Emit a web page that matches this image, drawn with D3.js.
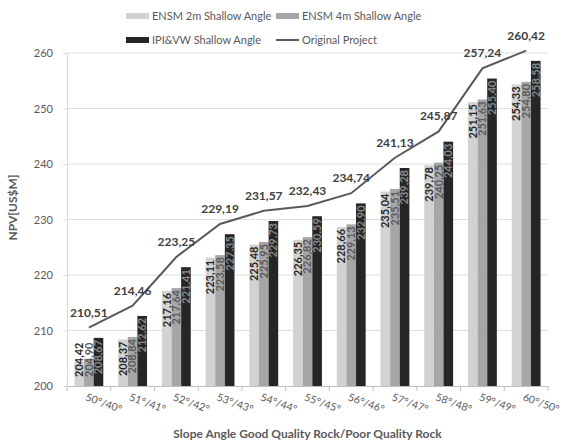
<!DOCTYPE html>
<html>
<head>
<meta charset="utf-8">
<script src="https://cdn.jsdelivr.net/npm/d3@7"></script>
<style>
  html, body { margin: 0; padding: 0; background: #fff; }
  svg { display: block; font-family: Lato, "Open Sans", sans-serif; }
</style>
</head>
<body>
<svg id="chart" width="562" height="444"></svg>
<script>
const categories = ["50°/40°", "51°/41°", "52°/42°", "53°/43°", "54°/44°", "55°/45°", "56°/46°", "57°/47°", "58°/48°", "59°/49°", "60°/50°"];
const ensm2m = [204.42, 208.37, 217.16, 223.11, 225.48, 226.35, 228.66, 235.04, 239.78, 251.15, 254.33];
const ensm4m = [204.90, 208.84, 217.64, 223.58, 225.95, 226.82, 229.13, 235.51, 240.25, 251.63, 254.80];
const ipivw = [208.67, 212.62, 221.41, 227.35, 229.73, 230.59, 232.90, 239.28, 244.03, 255.40, 258.58];
const original = [210.51, 214.46, 223.25, 229.19, 231.57, 232.43, 234.74, 241.13, 245.87, 257.24, 260.42];
const seriesNames = ["ENSM 2m Shallow Angle", "ENSM 4m Shallow Angle", "IPI&VW Shallow Angle", "Original Project"];
const yTicks = [200, 210, 220, 230, 240, 250, 260];

(function() {
const fmt = v => v.toFixed(2).replace(".", ",");
const svg = d3.select("#chart");

const left = 67, right = 548, plotTop = 53, bottom = 386;
const y = d3.scaleLinear().domain([200, 260]).range([bottom, plotTop]);
const x0 = d3.scaleBand().domain(categories).range([left, right]).paddingInner(0.34).paddingOuter(0.17);
const barSeries = [
  {name: seriesNames[0], values: ensm2m, fill: "#d2d2d2", label: "#262626"},
  {name: seriesNames[1], values: ensm4m, fill: "#a6a6a6", label: "#5a5a5a"},
  {name: seriesNames[2], values: ipivw, fill: "#262626", label: "#8a8a8a"}
];
const x1 = d3.scaleBand().domain(barSeries.map(s => s.name)).range([0, x0.bandwidth()]);

// gridlines
svg.append("g").selectAll("line").data(yTicks.filter(t => t > 200)).join("line")
  .attr("x1", left).attr("x2", right).attr("y1", d => y(d)).attr("y2", d => y(d))
  .attr("stroke", "#dedede").attr("stroke-width", 1);

// y axis
const yAxis = svg.append("g").attr("transform", `translate(${left},0)`)
  .call(d3.axisLeft(y).tickValues(yTicks).tickSize(4).tickPadding(10).tickFormat(d3.format("d")));
yAxis.select(".domain").attr("stroke", "#d9d9d9");
yAxis.selectAll(".tick line").attr("stroke", "#d9d9d9");
yAxis.selectAll(".tick text").attr("fill", "#595959").style("font-size", "11px").style("font-family", "Lato, 'Open Sans', sans-serif");

// bars
const groups = svg.append("g").selectAll("g").data(categories).join("g")
  .attr("transform", d => `translate(${x0(d)},0)`);
barSeries.forEach(s => {
  groups.append("rect")
    .attr("x", x1(s.name))
    .attr("width", x1.bandwidth())
    .attr("y", (d, i) => y(s.values[i]))
    .attr("height", (d, i) => bottom - y(s.values[i]))
    .attr("fill", s.fill);
});

// x axis
const xAxis = svg.append("g").attr("transform", `translate(0,${bottom})`)
  .call(d3.axisBottom(x0).tickSize(0).tickFormat(""));
xAxis.select(".domain").attr("stroke", "#bfbfbf");
const step = x0.step();
svg.append("g").selectAll("line").data(d3.range(categories.length + 1)).join("line")
  .attr("x1", i => left + i * step).attr("x2", i => left + i * step)
  .attr("y1", bottom).attr("y2", bottom + 5).attr("stroke", "#bfbfbf");
svg.append("g").selectAll("text").data(categories).join("text")
  .attr("transform", d => `translate(${x0(d) + x0.bandwidth() / 2 - 4},${bottom + 14}) rotate(20)`)
  .attr("fill", "#595959").style("font-size", "10.5px").text(d => d);

// bar labels
barSeries.forEach(s => {
  groups.append("text")
    .attr("fill", s.label)
    .style("font-size", "11px").style("font-weight", "bold")
    .attr("dy", "0.35em")
    .attr("text-anchor", "end")
    .text((d, i) => fmt(s.values[i]))
    .each(function(d, i) {
      const len = this.getComputedTextLength();
      const barTop = y(s.values[i]);
      const t = Math.min(barTop + 2, bottom - 9 - len);
      d3.select(this).attr("transform", `translate(${x1(s.name) + x1.bandwidth() / 2},${t}) rotate(-90)`);
    });
});

// line
const cx = c => x0(c) + x0.bandwidth() / 2;
const line = d3.line().x((d, i) => cx(categories[i])).y(d => y(d));
svg.append("path").datum(original).attr("d", line)
  .attr("fill", "none").attr("stroke", "#5a5a5a").attr("stroke-width", 2);
svg.append("g").selectAll("text").data(original).join("text")
  .attr("x", (d, i) => cx(categories[i])).attr("y", d => y(d) - 11)
  .attr("text-anchor", "middle").attr("fill", "#404040")
  .style("font-size", "12px").style("font-weight", "bold").text(d => fmt(d));

// axis titles
svg.append("text").attr("transform", `translate(17,${(plotTop + bottom) / 2 - 12}) rotate(-90)`)
  .attr("text-anchor", "middle").attr("fill", "#595959")
  .style("font-size", "12px").style("font-weight", "bold").text("NPV[US$M]");
svg.append("text").attr("x", (left + right) / 2).attr("y", 438)
  .attr("text-anchor", "middle").attr("fill", "#595959")
  .style("font-size", "12px").style("font-weight", "bold").text("Slope Angle Good Quality Rock/Poor Quality Rock");

// legend
const legendItems = [
  {name: seriesNames[0], fill: "#d2d2d2", x: 126, y: 16, type: "rect"},
  {name: seriesNames[1], fill: "#a6a6a6", x: 276, y: 16, type: "rect"},
  {name: seriesNames[2], fill: "#262626", x: 126, y: 40, type: "rect"},
  {name: seriesNames[3], fill: "#5a5a5a", x: 276, y: 40, type: "line"}
];
const lg = svg.append("g").selectAll("g").data(legendItems).join("g")
  .attr("transform", d => `translate(${d.x},${d.y})`);
lg.filter(d => d.type === "rect").append("rect")
  .attr("x", 0).attr("y", -3).attr("width", 23).attr("height", 6).attr("fill", d => d.fill);
lg.filter(d => d.type === "line").append("line")
  .attr("x1", 0).attr("x2", 23).attr("y1", 0).attr("y2", 0).attr("stroke", d => d.fill).attr("stroke-width", 2);
lg.append("text").attr("x", 26).attr("dy", "0.35em").attr("fill", "#595959")
  .style("font-size", "11px").text(d => d.name);
})();
</script>
</body>
</html>
